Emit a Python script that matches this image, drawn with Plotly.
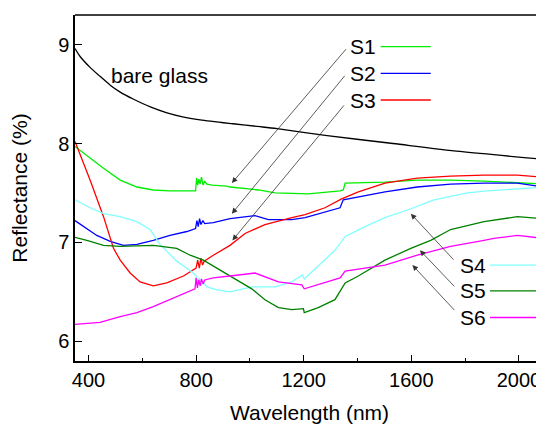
import plotly.graph_objects as go

# ---------------- data ----------------
glass_wl = [350, 369, 406, 443, 481, 518, 566, 630, 692, 750, 815, 937, 1038, 1101, 1287, 1532, 1781, 2093]
glass_R = [8.96, 8.88, 8.77, 8.68, 8.59, 8.52, 8.45, 8.37, 8.31, 8.27, 8.24, 8.20, 8.17, 8.15, 8.08, 8.00, 7.92, 7.84]

s1_wl = [350, 406, 456, 518, 580, 641, 703, 790, 798, 802, 806, 810, 815, 820, 826, 832, 840, 860, 914, 926, 1032, 1094, 1217, 1335, 1347, 1354, 1502, 1622, 1746, 1870, 1994, 2093]
s1_R = [7.97, 7.85, 7.75, 7.63, 7.56, 7.53, 7.52, 7.52, 7.52, 7.65, 7.58, 7.64, 7.59, 7.66, 7.58, 7.62, 7.59, 7.58, 7.57, 7.56, 7.53, 7.50, 7.49, 7.52, 7.53, 7.60, 7.61, 7.63, 7.63, 7.62, 7.60, 7.59]

s2_wl = [350, 381, 431, 481, 530, 580, 641, 703, 766, 798, 803, 808, 813, 818, 825, 832, 864, 926, 1019, 1069, 1156, 1205, 1279, 1335, 1347, 1403, 1502, 1622, 1746, 1870, 1994, 2093]
s2_R = [7.22, 7.16, 7.07, 7.01, 6.97, 6.98, 7.02, 7.07, 7.11, 7.14, 7.22, 7.16, 7.24, 7.18, 7.22, 7.19, 7.20, 7.24, 7.27, 7.23, 7.23, 7.25, 7.31, 7.35, 7.43, 7.46, 7.51, 7.56, 7.59, 7.60, 7.60, 7.56]

s3_wl = [350, 406, 456, 493, 518, 555, 592, 641, 691, 753, 800, 806, 812, 818, 824, 830, 864, 926, 982, 1056, 1156, 1205, 1279, 1341, 1403, 1502, 1622, 1746, 1870, 1994, 2093]
s3_R = [8.02, 7.63, 7.26, 6.94, 6.82, 6.69, 6.60, 6.56, 6.59, 6.66, 6.74, 6.82, 6.74, 6.84, 6.77, 6.81, 6.87, 6.97, 7.09, 7.18, 7.25, 7.28, 7.35, 7.44, 7.51, 7.60, 7.65, 7.67, 7.68, 7.68, 7.66]

s4_wl = [350, 406, 456, 518, 580, 629, 666, 728, 790, 800, 806, 812, 818, 826, 840, 877, 926, 1007, 1094, 1156, 1195, 1202, 1254, 1316, 1354, 1428, 1502, 1598, 1684, 1808, 1882, 1994, 2093]
s4_R = [7.43, 7.35, 7.29, 7.26, 7.21, 7.13, 6.98, 6.81, 6.69, 6.66, 6.58, 6.64, 6.56, 6.60, 6.55, 6.52, 6.50, 6.55, 6.55, 6.60, 6.67, 6.63, 6.76, 6.92, 7.06, 7.16, 7.25, 7.34, 7.43, 7.50, 7.52, 7.54, 7.56]

s5_wl = [350, 394, 456, 518, 641, 728, 778, 827, 877, 926, 1007, 1056, 1106, 1156, 1199, 1202, 1254, 1316, 1354, 1403, 1453, 1502, 1598, 1672, 1746, 1870, 1994, 2093]
s5_R = [7.05, 7.02, 6.97, 6.96, 6.97, 6.94, 6.87, 6.82, 6.74, 6.66, 6.53, 6.42, 6.34, 6.32, 6.33, 6.29, 6.34, 6.42, 6.59, 6.66, 6.74, 6.82, 6.94, 7.02, 7.13, 7.21, 7.26, 7.24]

s6_wl = [350, 443, 518, 580, 641, 703, 766, 796, 800, 805, 810, 815, 820, 826, 832, 864, 926, 1019, 1106, 1193, 1202, 1279, 1335, 1354, 1428, 1502, 1622, 1746, 1870, 1907, 1994, 2093]
s6_R = [6.17, 6.19, 6.25, 6.29, 6.35, 6.42, 6.49, 6.53, 6.64, 6.54, 6.62, 6.56, 6.63, 6.58, 6.62, 6.64, 6.66, 6.69, 6.60, 6.57, 6.53, 6.59, 6.64, 6.71, 6.74, 6.77, 6.87, 6.96, 7.02, 7.04, 7.07, 7.04]

x_ticks = [400, 800, 1200, 1600, 2000]
x_minor = [600, 1000, 1400, 1800]
y_ticks = [6, 7, 8, 9]

series = [
    ("S1", s1_wl, s1_R, "#00ee00"),
    ("S2", s2_wl, s2_R, "#0000ff"),
    ("S3", s3_wl, s3_R, "#ff0000"),
    ("S4", s4_wl, s4_R, "#80ffff"),
    ("S5", s5_wl, s5_R, "#008000"),
    ("S6", s6_wl, s6_R, "#ff00ff"),
]

FONT = "Liberation Sans, Arial, sans-serif"

fig = go.Figure()
fig.add_trace(go.Scatter(x=glass_wl, y=glass_R, mode="lines", line=dict(color="black", width=1.3, shape="spline", smoothing=0.8),
                         showlegend=False, hoverinfo="skip"))
for name, wl, r, col in series:
    fig.add_trace(go.Scatter(x=wl, y=r, mode="lines", line=dict(color=col, width=1.3), name=name,
                             showlegend=False, hoverinfo="skip"))

annotations = []
shapes = []

# bare glass label
annotations.append(dict(x=478, y=8.69, xref="x", yref="y", text="bare glass", showarrow=False,
                        xanchor="left", yanchor="middle", font=dict(size=21, color="black", family=FONT)))

# labels + legend-like line segments
label_pos = {
    "S1": (1366, 8.98, 1486, 1672),
    "S2": (1366, 8.71, 1486, 1672),
    "S3": (1366, 8.44, 1486, 1672),
    "S4": (1772, 6.77, 1892, 2075),
    "S5": (1772, 6.51, 1892, 2075),
    "S6": (1772, 6.24, 1892, 2075),
}
for name, wl, r, col in series:
    lx, ly, x0, x1 = label_pos[name]
    annotations.append(dict(x=lx, y=ly, xref="x", yref="y", text=name, showarrow=False,
                            xanchor="left", yanchor="middle", font=dict(size=21, color="black", family=FONT)))
    shapes.append(dict(type="line", xref="x", yref="y", x0=x0, x1=x1, y0=ly, y1=ly,
                       line=dict(color=col, width=1.3)))

# arrows: (head_x, head_y, tail_x, tail_y)
arrows = [
    (933, 7.60, 1362, 8.97),
    (933, 7.29, 1357, 8.70),
    (935, 7.02, 1354, 8.40),
    (1598, 7.29, 1762, 6.81),
    (1632, 6.92, 1765, 6.54),
    (1604, 6.77, 1765, 6.30),
]
for hx, hy, tx, ty in arrows:
    annotations.append(dict(x=hx, y=hy, ax=tx, ay=ty, xref="x", yref="y", axref="x", ayref="y",
                            text="", showarrow=True, arrowhead=2, arrowsize=1.4, arrowwidth=0.8,
                            arrowcolor="#333333", standoff=0))

# top border
shapes.append(dict(type="line", xref="paper", yref="paper", x0=0, x1=1, y0=1, y1=1,
                   line=dict(color="black", width=1.5)))

# The page body adds an 8px offset; the figure is sized so the plot area lands where the reference has it.
fig.update_layout(
    width=536, height=416,
    margin=dict(l=67, r=0, t=7, b=63),
    paper_bgcolor="white", plot_bgcolor="white",
    font=dict(family=FONT, color="black"),
    annotations=annotations, shapes=shapes,
    showlegend=False,
    xaxis=dict(range=[350, 2093], tickvals=x_ticks, ticktext=[str(v) for v in x_ticks],
               ticks="inside", ticklen=6, tickwidth=1.3, tickcolor="black",
               minor=dict(tickvals=x_minor, ticks="inside", ticklen=3, tickwidth=1.3, tickcolor="black"),
               showline=True, linewidth=1.5, linecolor="black", showgrid=False, zeroline=False,
               tickfont=dict(size=20, family=FONT),
               title=dict(text="Wavelength (nm)", font=dict(size=21, family=FONT), standoff=16),
               automargin=False),
    yaxis=dict(range=[5.8, 9.3], tickvals=y_ticks, ticktext=[str(v) for v in y_ticks],
               ticks="inside", ticklen=7, tickwidth=1.3, tickcolor="black",
               showline=True, linewidth=1.5, linecolor="black", showgrid=False, zeroline=False,
               tickfont=dict(size=20, family=FONT),
               title=dict(text="Reflectance (%)", font=dict(size=21, family=FONT), standoff=26),
               automargin=False),
)

fig.write_html("out.html")
